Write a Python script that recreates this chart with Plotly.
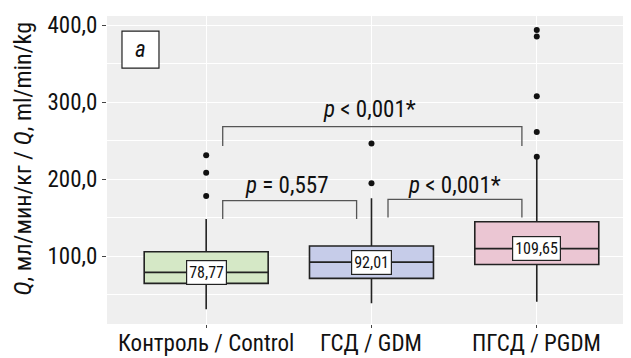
import plotly.graph_objects as go

categories = ["Контроль / Control", "ГСД / GDM", "ПГСД / PGDM"]
xpos = [1, 2, 3]
q1 = [64.5, 71.0, 89.0]
median = [78.77, 92.01, 109.65]
q3 = [105.6, 113.0, 144.5]
lower_fence = [31.0, 38.6, 40.6]
upper_fence = [148.0, 175.0, 226.0]
outliers = [[178.0, 208.0, 231.0], [194.4, 246.0], [229.0, 261.0, 307.5, 385.0, 393.5]]
median_labels = ["78,77", "92,01", "109,65"]
fills = ["#d5e8c6", "#c6cce9", "#ebc6d3"]

# comparison brackets: (x_start, x_end, y_top, y_tick_bottom, label, label_x, label_y)
brackets = [
    (1.1, 1.91, 172.0, 148.0, "<i>p</i> = 0,557", 1.49, 192.0),
    (2.1, 2.91, 173.5, 150.0, "<i>p</i> < 0,001*", 2.5, 192.0),
    (1.1, 2.91, 268.0, 243.0, "<i>p</i> < 0,001*", 1.99, 290.0),
]
yticks = [100, 200, 300, 400]
ytick_labels = ["100,0", "200,0", "300,0", "400,0"]

FONT = "Liberation Sans Narrow, Roboto Condensed, DejaVu Sans Condensed, sans-serif"
FS = 23

fig = go.Figure()
for i in range(3):
    fig.add_trace(go.Box(
        x=[xpos[i]], q1=[q1[i]], median=[median[i]], q3=[q3[i]],
        lowerfence=[lower_fence[i]], upperfence=[upper_fence[i]],
        width=0.75, whiskerwidth=0, fillcolor=fills[i],
        line=dict(color="#222222", width=1.6), boxpoints=False,
        showlegend=False, hoverinfo="skip",
    ))
    fig.add_trace(go.Scatter(
        x=[xpos[i]] * len(outliers[i]), y=outliers[i], mode="markers",
        marker=dict(color="#111111", size=6), showlegend=False, hoverinfo="skip",
    ))
    fig.add_annotation(
        x=xpos[i], y=median[i], text=median_labels[i], showarrow=False,
        font=dict(family=FONT, size=16, color="#111111"),
        bgcolor="white", bordercolor="#222222", borderwidth=1.2, borderpad=2,
    )
    # category label below the axis
    fig.add_annotation(
        x=xpos[i], xref="x", yref="paper", y=-0.062, yanchor="middle", xanchor="center",
        text=categories[i], showarrow=False,
        font=dict(family=FONT, size=FS, color="#111111"),
    )

for (xa, xb, yt, yb, lab, lx, ly) in brackets:
    fig.add_trace(go.Scatter(
        x=[xa, xa, xb, xb], y=[yb, yt, yt, yb], mode="lines",
        line=dict(color="#555555", width=1.3), showlegend=False, hoverinfo="skip",
    ))
    fig.add_annotation(x=lx, y=ly, text=lab, showarrow=False,
                       font=dict(family=FONT, size=FS, color="#111111"))

# panel tag "a"
fig.add_shape(type="rect", xref="paper", yref="paper", x0=0.0286, x1=0.0992, y0=0.831, y1=0.951,
              fillcolor="white", line=dict(color="#222222", width=1.2))
fig.add_annotation(xref="paper", yref="paper", x=0.064, y=0.891, xanchor="center", yanchor="middle",
                   text="<i>a</i>", showarrow=False,
                   font=dict(family=FONT, size=FS, color="#111111"))

# y-axis title as rotated annotation
fig.add_annotation(xref="paper", yref="paper", x=-0.160, y=0.535, xanchor="center", yanchor="middle",
                   textangle=-90, showarrow=False,
                   text="<i>Q</i>, мл/мин/кг / <i>Q</i>, ml/min/kg",
                   font=dict(family=FONT, size=24, color="#111111"))

fig.update_layout(
    width=623, height=350,
    margin=dict(l=99, r=0, t=8, b=34),
    paper_bgcolor="white", plot_bgcolor="#efefef",
    font=dict(family=FONT, size=FS, color="#111111"),
    xaxis=dict(range=[0.4, 3.57], tickmode="array", tickvals=xpos, showticklabels=False,
               automargin=False,
               showgrid=True, gridcolor="white", gridwidth=1.2, zeroline=False,
               ticks="outside", ticklen=3, tickcolor="#444444"),
    yaxis=dict(range=[11.7, 411.7], tickmode="array", tickvals=yticks, ticktext=ytick_labels,
               automargin=False,
               showgrid=True, gridcolor="white", gridwidth=1.2, zeroline=False,
               ticks="outside", ticklen=4, tickcolor="#444444",
               minor=dict(tickmode="array", tickvals=[50, 150, 250, 350, 400], showgrid=True,
                          gridcolor="white", gridwidth=0.6, ticks=""),
               tickfont=dict(family=FONT, size=FS, color="#111111")),
)

fig.write_html("out.html")
